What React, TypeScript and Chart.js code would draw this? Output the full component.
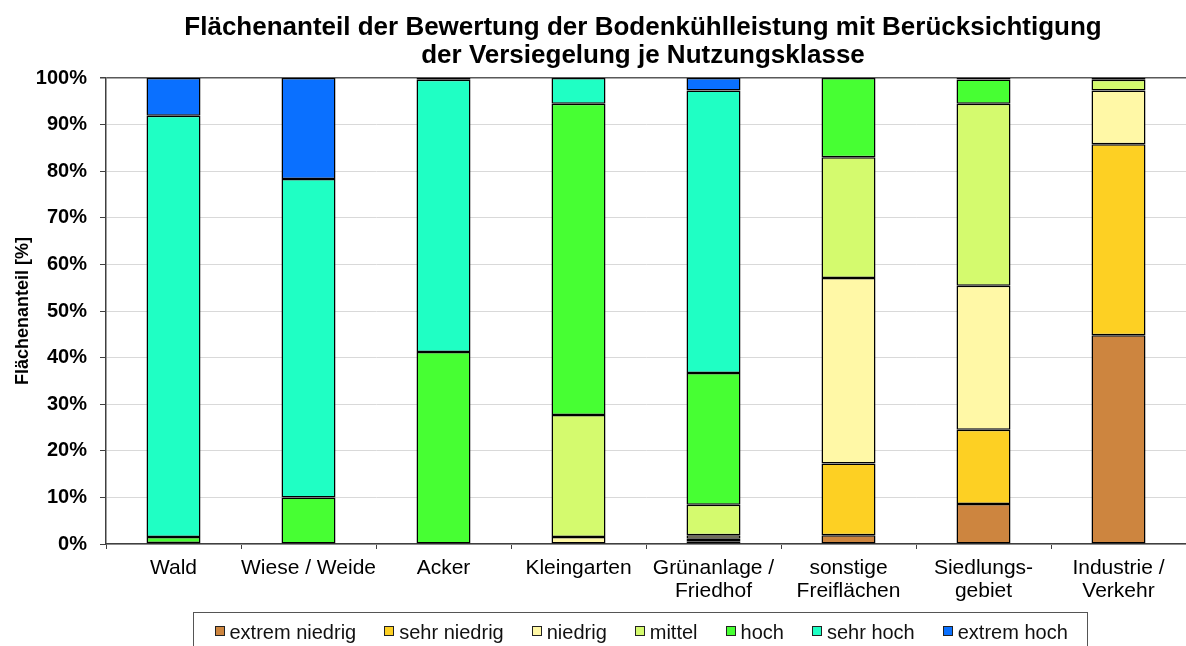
import React, { useEffect, useRef } from "react";
import { Chart, registerables } from "chart.js";

Chart.register(...registerables);

const categories: string[][] = [
  ["Wald"],
  ["Wiese / Weide"],
  ["Acker"],
  ["Kleingarten"],
  ["Grünanlage /", "Friedhof"],
  ["sonstige", "Freiflächen"],
  ["Siedlungs-", "gebiet"],
  ["Industrie /", "Verkehr"],
];

const seriesNames = ["extrem niedrig", "sehr niedrig", "niedrig", "mittel", "hoch", "sehr hoch", "extrem hoch"];
const seriesColors = ["#CD853F", "#FDD023", "#FFF8A6", "#D4FA6E", "#47FF33", "#1FFFC4", "#0A70FF"];

const extremNiedrig = [0, 0, 0, 0, 0.5, 1.9, 8.6, 44.8];
const sehrNiedrig = [0, 0, 0, 0, 0.6, 15.4, 15.9, 41.0];
const niedrig = [0, 0, 0, 1.5, 0.8, 39.8, 30.9, 11.5];
const mittel = [0.2, 0, 0, 26.2, 6.5, 25.9, 39.1, 2.3];
const hoch = [1.3, 10.0, 41.2, 66.8, 28.3, 17.0, 5.2, 0.4];
const sehrHoch = [90.4, 68.3, 58.4, 5.5, 60.6, 0, 0.3, 0];
const extremHoch = [8.1, 21.7, 0.4, 0, 2.7, 0, 0, 0];

const seriesValues = [extremNiedrig, sehrNiedrig, niedrig, mittel, hoch, sehrHoch, extremHoch];

const yTicks = [0, 10, 20, 30, 40, 50, 60, 70, 80, 90, 100];

const titleLines = [
  "Flächenanteil der Bewertung der Bodenkühlleistung mit Berücksichtigung",
  "der Versiegelung je Nutzungsklasse",
];
const yAxisTitle = "Flächenanteil [%]";

const FONT = '"Liberation Sans", Arial, sans-serif';

const decorPlugin = {
  id: "decor",
  afterDraw(chart: any) {
    const { ctx, chartArea } = chart;
    ctx.save();
    // Title
    ctx.fillStyle = "#000";
    ctx.font = `bold 26px ${FONT}`;
    ctx.textAlign = "center";
    ctx.textBaseline = "alphabetic";
    const cx = (chartArea.left + chartArea.right) / 2 - 3;
    ctx.fillText(titleLines[0], cx, 35);
    ctx.fillText(titleLines[1], cx, 63);

    // Legend
    const boxLeft = 193.5;
    const boxRight = 1087.5;
    const boxTop = 612.5;
    ctx.strokeStyle = "#555";
    ctx.lineWidth = 1;
    ctx.strokeRect(boxLeft, boxTop, boxRight - boxLeft, 60);
    ctx.font = `20px ${FONT}`;
    ctx.textAlign = "left";
    const gap = 28;
    const sq = 10;
    const textOff = 15;
    const widths = chart.data.datasets.map((d: any) => textOff + ctx.measureText(d.label).width);
    const total = widths.reduce((a: number, b: number) => a + b, 0) + gap * (widths.length - 1);
    let x = Math.round((boxLeft + boxRight) / 2 - total / 2) + 0.5;
    const cy = 631;
    chart.data.datasets.forEach((d: any, i: number) => {
      const sx = Math.round(x);
      ctx.fillStyle = d.backgroundColor;
      ctx.fillRect(sx, cy - sq / 2, sq, sq);
      ctx.strokeStyle = "#222";
      ctx.strokeRect(sx + 0.5, cy - sq / 2 + 0.5, sq - 1, sq - 1);
      ctx.fillStyle = "#111";
      ctx.fillText(d.label, x + textOff, 639);
      x += widths[i] + gap;
    });
    ctx.restore();
  },
};

export default function App() {
  const canvasRef = useRef<HTMLCanvasElement | null>(null);

  useEffect(() => {
    document.body.style.margin = "0";
    const canvas = canvasRef.current;
    if (!canvas) return;
    const chart = new Chart(canvas, {
      type: "bar",
      data: {
        labels: categories,
        datasets: seriesNames.map((name, i) => ({
          label: name,
          data: seriesValues[i].map((v) => (v === 0 ? null : v)),
          backgroundColor: seriesColors[i],
          borderColor: "#000",
          borderWidth: 1.5,
          borderSkipped: false,
          barPercentage: 0.4,
          categoryPercentage: 1.0,
        })),
      },
      options: {
        responsive: false,
        animation: false,
        events: [],
        layout: { padding: { top: 78, left: 0, right: 0, bottom: 0 } },
        plugins: {
          legend: { display: false },
          title: { display: false },
          tooltip: { enabled: false },
        },
        scales: {
          x: {
            stacked: true,
            offset: true,
            afterFit: (scale: any) => {
              scale.height = 102;
            },
            grid: {
              display: true,
              drawOnChartArea: false,
              drawTicks: true,
              tickLength: 5,
              tickColor: "#404040",
              offset: true,
            },
            border: { display: true, color: "#404040", width: 1.5 },
            ticks: {
              color: "#000",
              font: { family: FONT, size: 21, lineHeight: 1.1 },
              padding: 8,
              maxRotation: 0,
              autoSkip: false,
            },
          },
          y: {
            stacked: true,
            min: 0,
            max: 100,
            afterFit: (scale: any) => {
              scale.width = 106;
            },
            afterBuildTicks: (scale: any) => {
              scale.ticks = yTicks.map((v) => ({ value: v }));
            },
            grid: {
              color: (c: any) => (c.tick && c.tick.value === 100 ? "#595959" : "#d9d9d9"),
              lineWidth: (c: any) => (c.tick && c.tick.value === 100 ? 1.5 : 1),
              tickLength: 6,
              tickColor: "#404040",
              drawTicks: true,
            },
            border: { display: true, color: "#404040", width: 1.5 },
            ticks: {
              color: "#000",
              font: { family: FONT, size: 20, weight: "bold" },
              padding: 13,
              callback: (v: any) => `${v}%`,
            },
            title: {
              display: true,
              text: yAxisTitle,
              color: "#000",
              font: { family: FONT, size: 18, weight: "bold" },
              padding: { top: 12, bottom: 0 },
            },
          },
        },
      },
      plugins: [decorPlugin],
    });
    return () => chart.destroy();
  }, []);

  return (
    <div style={{ width: 1186, height: 646 }}>
      <canvas ref={canvasRef} width={1186} height={646} style={{ display: "block" }} />
    </div>
  );
}
